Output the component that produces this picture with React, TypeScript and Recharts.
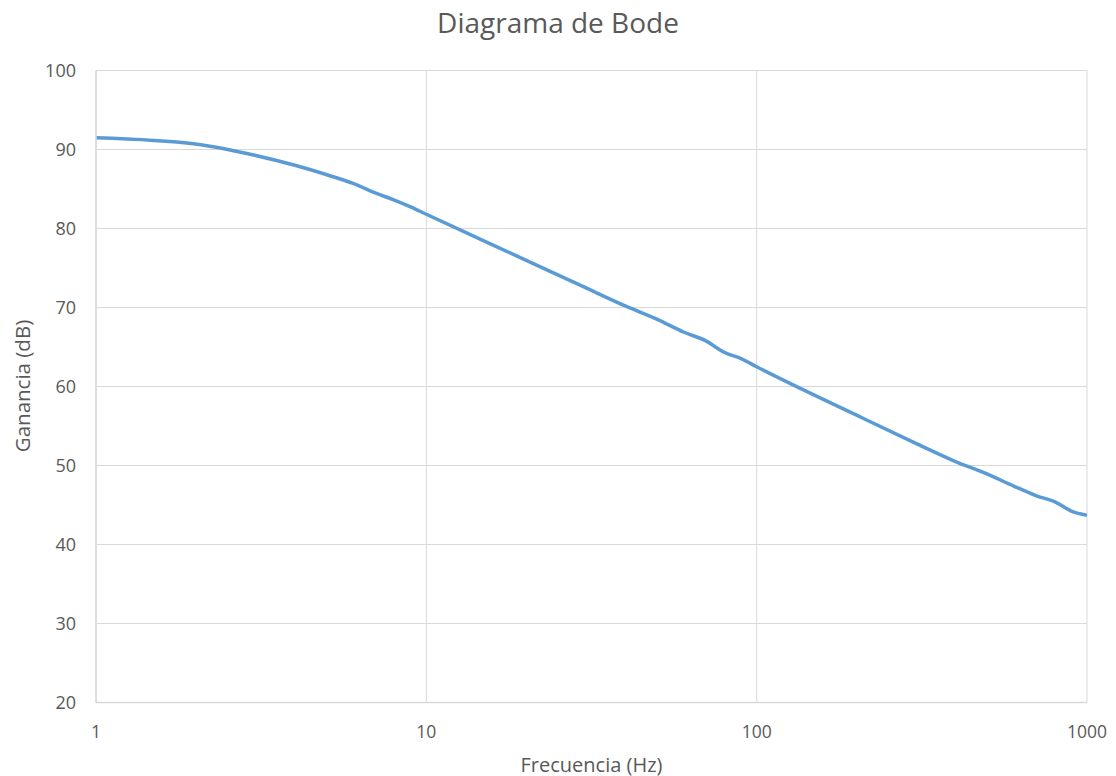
import React from 'react';
import { LineChart, Line, XAxis, YAxis, CartesianGrid } from 'recharts';

const frequencies = [1, 2, 3, 4, 5, 6, 7, 8, 9, 10, 20, 30, 40, 50, 60, 70, 80, 90, 100, 200, 300, 400, 500, 600, 700, 800, 900, 1000];
const gainDb = [91.5, 90.7, 89.3, 88.0, 86.8, 85.7, 84.5, 83.6, 82.7, 81.8, 76.0, 72.6, 70.2, 68.5, 66.9, 65.8, 64.3, 63.5, 62.5, 56.4, 52.9, 50.5, 48.9, 47.4, 46.2, 45.4, 44.2, 43.7];
const xTicks = [1, 10, 100, 1000];
const yTicks = [20, 30, 40, 50, 60, 70, 80, 90, 100];

const title = 'Diagrama de Bode';
const xLabel = 'Frecuencia (Hz)';
const yLabel = 'Ganancia (dB)';

const data = frequencies.map((f, i) => ({ f, g: gainDb[i] }));

const FONT = '"Open Sans", "Noto Sans", sans-serif';
const TEXT = '#595959';

export default function App() {
  return (
    <div style={{ position: 'absolute', left: 0, top: 0, width: 1116, height: 776, background: '#fff', fontFamily: FONT }}>
      <LineChart width={1116} height={776} data={data} margin={{ top: 70.5, right: 29, bottom: 33.5, left: 36 }}>
        <CartesianGrid stroke="#d9d9d9" strokeWidth={1} />
        <XAxis
          dataKey="f"
          type="number"
          scale="log"
          domain={[1, 1000]}
          ticks={xTicks}
          allowDataOverflow
          height={40}
          tickLine={false}
          axisLine={{ stroke: '#d9d9d9', strokeWidth: 1.5 }}
          tickMargin={17}
          tick={{ fill: TEXT, fontSize: 17.5, fontFamily: FONT }}
        />
        <YAxis
          type="number"
          domain={[20, 100]}
          ticks={yTicks}
          width={60}
          tickLine={false}
          axisLine={{ stroke: '#d9d9d9', strokeWidth: 1.5 }}
          tickMargin={14}
          tick={{ fill: TEXT, fontSize: 18, fontFamily: FONT }}
        />
        <Line
          dataKey="g"
          type="monotone"
          stroke="#5b9bd5"
          strokeWidth={3.5}
          dot={false}
          isAnimationActive={false}
        />
      </LineChart>
      <div style={{ position: 'absolute', left: 0, width: 1116, top: 2, textAlign: 'center', fontSize: 28, lineHeight: '40px', color: TEXT }}>{title}</div>
      <div style={{ position: 'absolute', left: 96, width: 991, top: 751, textAlign: 'center', fontSize: 20, lineHeight: '28px', color: TEXT }}>{xLabel}</div>
      <div style={{ position: 'absolute', left: 22 - 100, top: 386 - 14, width: 200, textAlign: 'center', fontSize: 20.5, lineHeight: '28px', color: TEXT, transform: 'rotate(-90deg)' }}>{yLabel}</div>
    </div>
  );
}
